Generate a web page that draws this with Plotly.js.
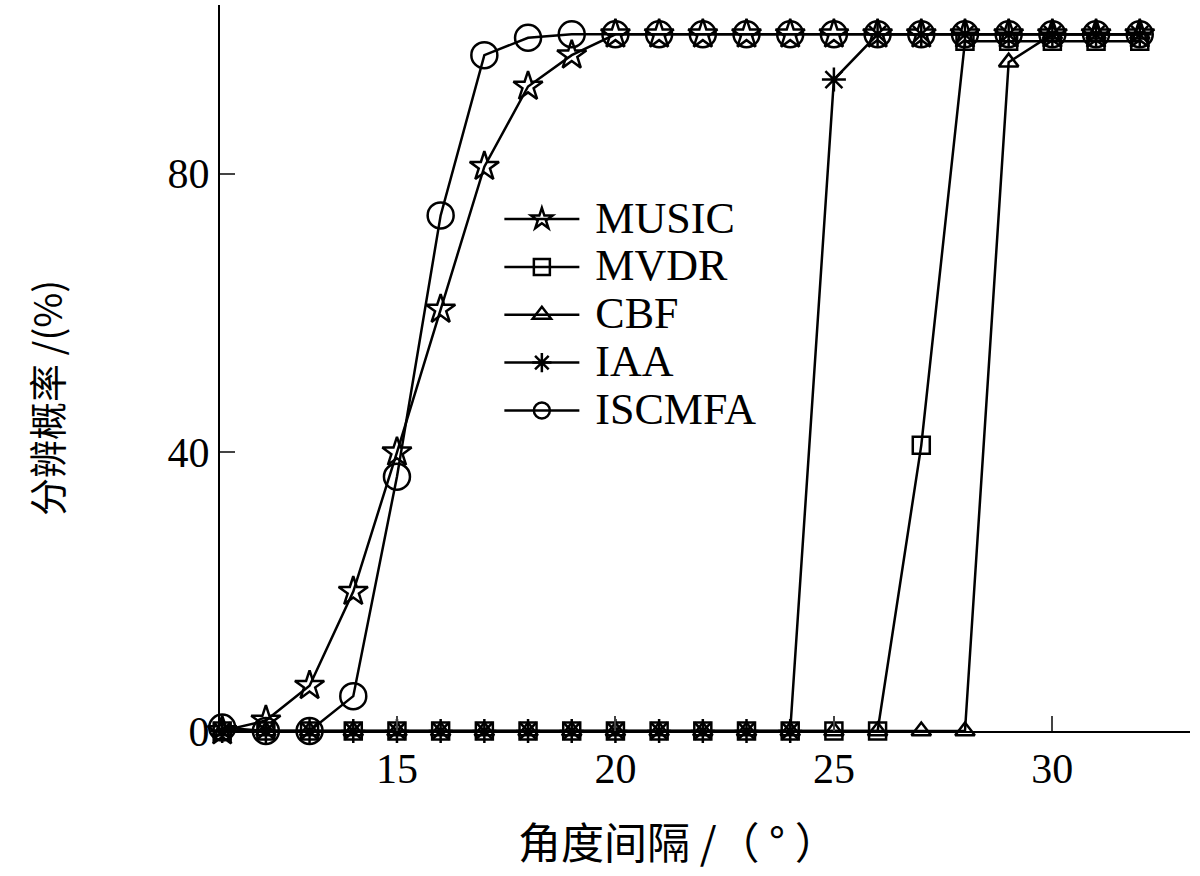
<!DOCTYPE html>
<html>
<head>
<meta charset="utf-8">
<script src="https://cdn.plot.ly/plotly-3.0.1.min.js"></script>
<style>html,body{margin:0;padding:0;background:#fff;}#chart{width:1200px;height:876px;}</style>
</head>
<body>
<div id="chart"></div>
<script>
const angles = [11,12,13,14,15,16,17,18,19,20,21,22,23,24,25,26,27,28,29,30,31,32];
const music  = [0,1.5,6.5,20,40,60.5,81,92.5,97,100,100,100,100,100,100,100,100,100,100,100,100,100];
const mvdr   = [0,0,0,0,0,0,0,0,0,0,0,0,0,0,0,0,41,99,99,99,99,99];
const cbf    = [0,0,0,0,0,0,0,0,0,0,0,0,0,0,0,0,0,0,96,100,100,100];
const iaa    = [0,0,0,0,0,0,0,0,0,0,0,0,0,0,93.5,100,100,100,100,100,100,100];
const iscmfa = [0.5,0,0,5,36.5,74,97,99.5,100,100,100,100,100,100,100,100,100,100,100,100,100,100];
const seriesNames = ['MUSIC','MVDR','CBF','IAA','ISCMFA'];
const xTicks = [15,20,25,30];
const yTicks = [0,40,80];
const xTitle = '角度间隔 /（\u00a0°\u00a0）';
const yTitle = '分辨概率 /(%)';

const symbols = ['star-open','square-open','triangle-up-open','asterisk-open','circle-open'];
const sizes = [22,17,17,20,26];
const data = [music, mvdr, cbf, iaa, iscmfa];

const traces = data.map((ys,i)=>({
  x: angles, y: ys, type:'scatter', mode:'lines+markers',
  name: '<span style="font-size:44px">\u00a0' + seriesNames[i] + '</span>',
  line:{color:'#000', width:2.5},
  marker:{symbol:symbols[i], size:sizes[i], color:'#000', line:{color:'#000', width:2.5}},
  cliponaxis:false
}));

const serif = 'Liberation Serif, Times New Roman, serif';
const cjk = 'Noto Sans CJK SC, sans-serif';

const layout = {
  width:1200, height:876,
  margin:{l:220, r:10, t:5, b:145},
  paper_bgcolor:'#fff', plot_bgcolor:'#fff',
  showlegend:true,
  legend:{x:0.288, y:0.745, xanchor:'left', yanchor:'top', bgcolor:'rgba(0,0,0,0)',
    font:{family:serif, size:34.5, color:'#000'},
    itemwidth:75, tracegroupgap:0},
  xaxis:{range:[10.95,33.15], tickvals:xTicks, ticktext:xTicks.map(String), ticks:'inside', ticklen:15, tickwidth:2,
    showline:true, linecolor:'#000', linewidth:2, showgrid:false, zeroline:false, ticklabelstandoff:0,
    tickfont:{family:serif, size:42, color:'#000'}},
  yaxis:{range:[0,104.2], tickvals:yTicks, ticktext:yTicks.map(String), ticks:'inside', ticklen:15, tickwidth:2,
    showline:true, linecolor:'#000', linewidth:2, showgrid:false, zeroline:false,
    tickfont:{family:serif, size:42, color:'#000'}},
  annotations:[
    {text:xTitle, xref:'paper', yref:'paper', x:(678-220)/970, y:-(840-731)/726, xanchor:'center', yanchor:'middle',
     showarrow:false, font:{family:cjk, size:43, color:'#000'}},
    {text:yTitle, xref:'paper', yref:'paper', x:-(220-45)/970, y:(731-398)/726, xanchor:'center', yanchor:'middle',
     textangle:-90, showarrow:false, font:{family:cjk, size:38, color:'#000'}}
  ]
};
Plotly.newPlot('chart', traces, layout, {displayModeBar:false, staticPlot:true});
</script>
</body>
</html>
